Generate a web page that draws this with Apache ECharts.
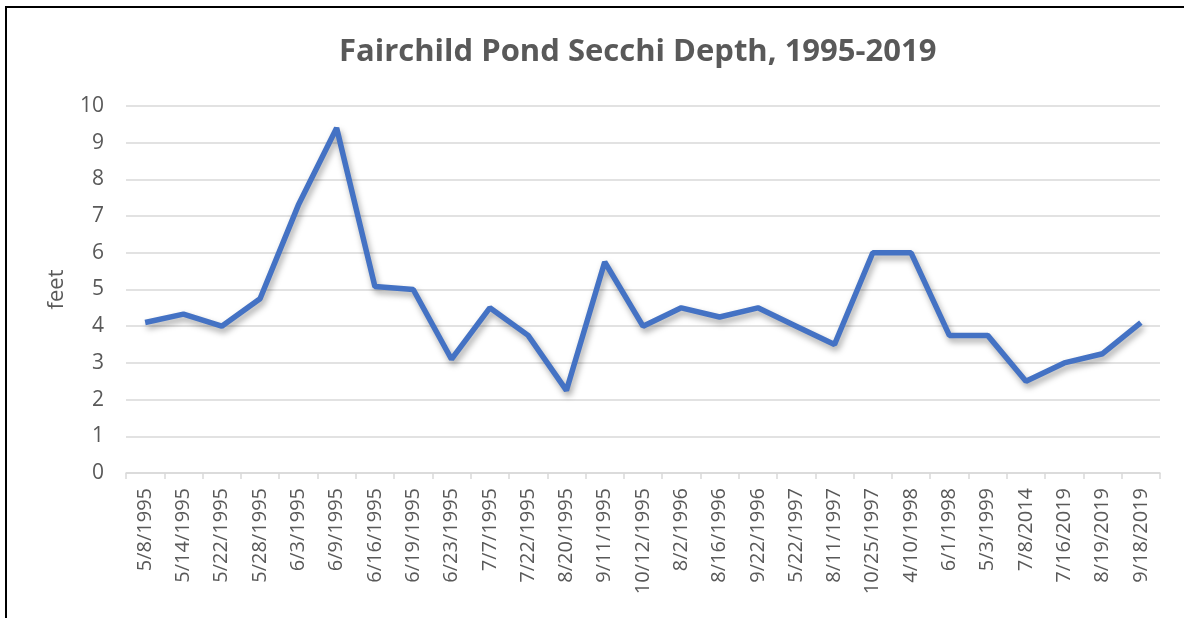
<!DOCTYPE html>
<html>
<head>
<meta charset="utf-8">
<script src="https://cdn.jsdelivr.net/npm/echarts@6/dist/echarts.min.js"></script>
<style>
html, body { margin: 0; padding: 0; background: #fff; }
#box { width: 1184px; height: 618px; }
</style>
</head>
<body>
<div id="box"></div>
<script>
// sample dates (category axis)
const dates = ['5/8/1995', '5/14/1995', '5/22/1995', '5/28/1995', '6/3/1995', '6/9/1995',
  '6/16/1995', '6/19/1995', '6/23/1995', '7/7/1995', '7/22/1995', '8/20/1995', '9/11/1995',
  '10/12/1995', '8/2/1996', '8/16/1996', '9/22/1996', '5/22/1997', '8/11/1997', '10/25/1997',
  '4/10/1998', '6/1/1998', '5/3/1999', '7/8/2014', '7/16/2019', '8/19/2019', '9/18/2019'];

// secchi depth, feet
const depth = [4.1, 4.33, 4.0, 4.75, 7.3, 9.4, 5.08, 5.0, 3.1, 4.5, 3.75, 2.25, 5.75,
  4.0, 4.5, 4.25, 4.5, 4.0, 3.5, 6.0, 6.0, 3.75, 3.75, 2.5, 3.0, 3.25, 4.1];

const yTicks = { min: 0, max: 10, step: 1 };

let myChart = echarts.init(document.getElementById('box'));
let option = {
  backgroundColor: '#fff',
  animation: false,
  title: {
    text: 'Fairchild Pond Secchi Depth, 1995-2019',
    left: 334,
    top: 32,
    textStyle: {
      fontFamily: 'Open Sans',
      fontWeight: 'bold',
      fontSize: 31,
      color: '#595959'
    }
  },
  graphic: [{
    type: 'rect',
    shape: { x: 6, y: 7, width: 1300, height: 700 },
    style: { fill: 'none', stroke: '#000', lineWidth: 2 },
    silent: true
  }],
  grid: {
    left: 126,
    right: 24,
    top: 106,
    bottom: 145
  },
  xAxis: {
    type: 'category',
    data: dates,
    boundaryGap: true,
    axisLine: { lineStyle: { color: '#d9d9d9', width: 1.5 } },
    axisTick: { show: true, length: 6, lineStyle: { color: '#d9d9d9', width: 1.5 } },
    axisLabel: {
      interval: 0,
      rotate: 90,
      margin: 15,
      fontFamily: 'Open Sans',
      fontSize: 20,
      color: '#595959'
    }
  },
  yAxis: {
    type: 'value',
    min: yTicks.min,
    max: yTicks.max,
    interval: yTicks.step,
    name: 'feet',
    nameLocation: 'middle',
    nameGap: 58,
    nameRotate: 90,
    nameTextStyle: { fontFamily: 'Open Sans', fontSize: 22, color: '#595959' },
    axisLine: { show: false },
    axisTick: { show: false },
    axisLabel: {
      margin: 22,
      fontFamily: 'Open Sans',
      fontSize: 21,
      color: '#595959'
    },
    splitLine: { lineStyle: { color: '#d9d9d9', width: 1.5 } }
  },
  series: [{
    name: 'Secchi Depth',
    type: 'line',
    data: depth,
    symbol: 'none',
    lineStyle: {
      color: '#4472C4',
      width: 5.5,
      shadowColor: 'rgba(0,0,0,0.35)',
      shadowBlur: 6,
      shadowOffsetX: 2,
      shadowOffsetY: 4
    }
  }]
};
myChart.setOption(option);
</script>
</body>
</html>
